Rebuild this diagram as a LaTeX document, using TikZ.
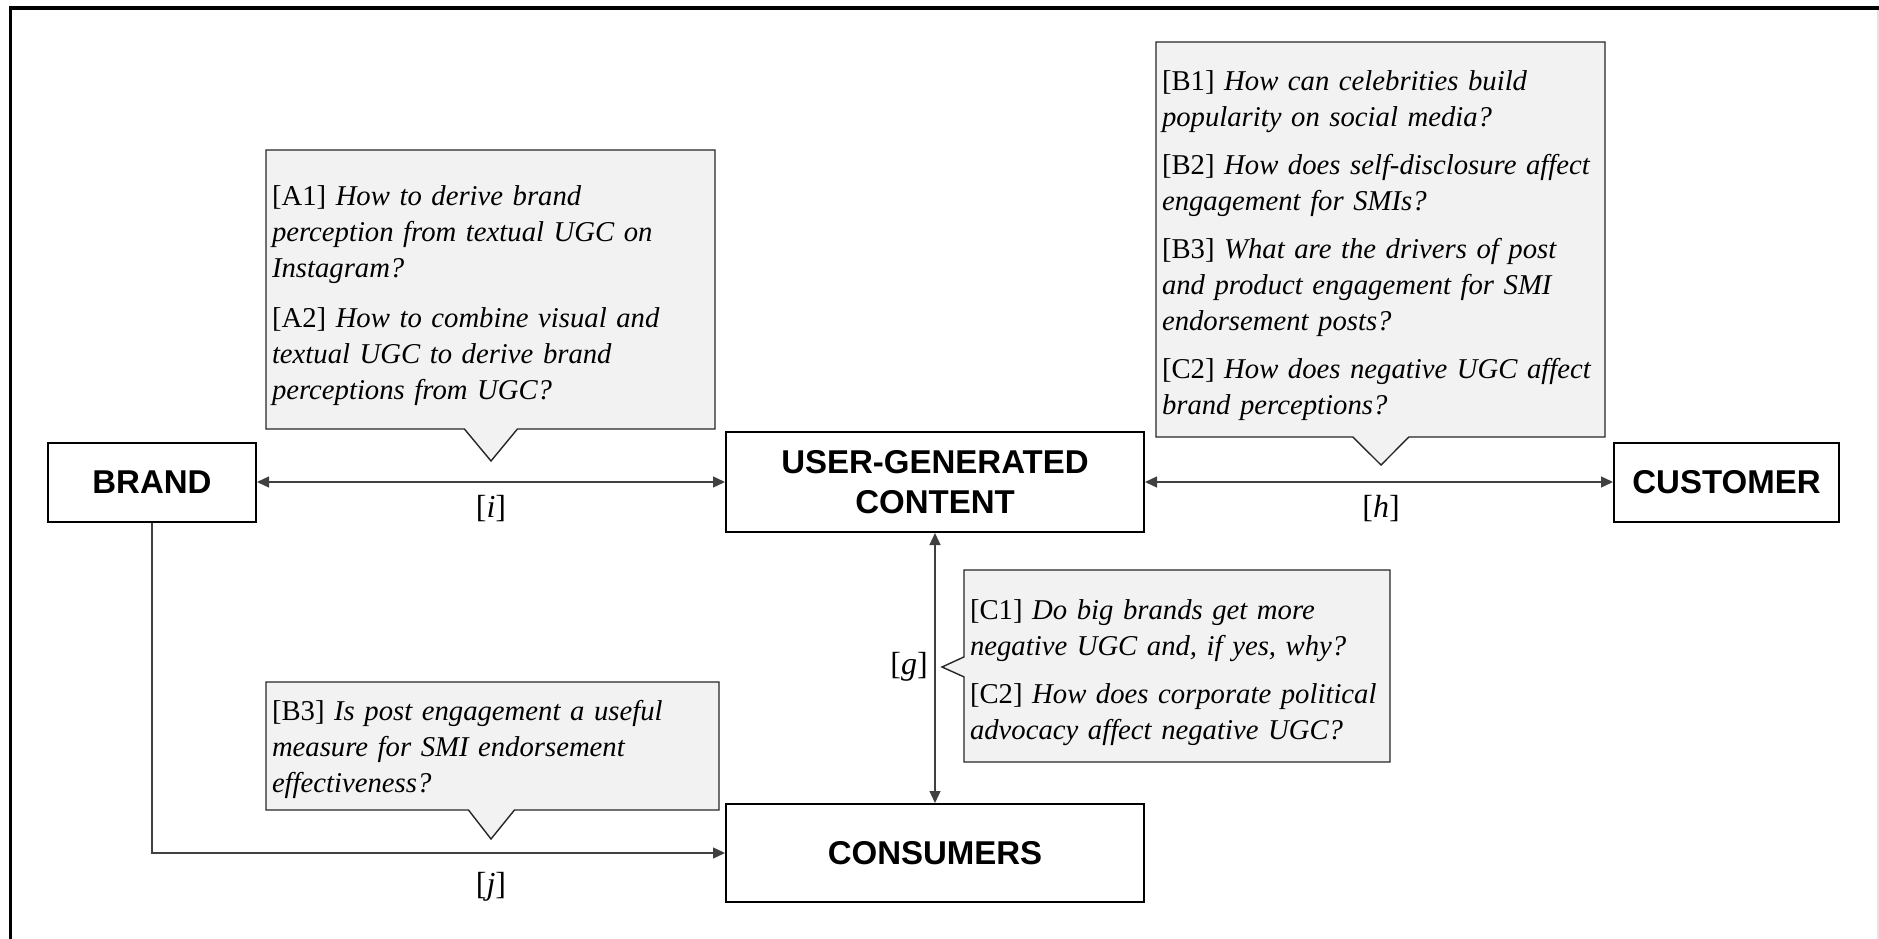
\documentclass[tikz,border=0pt]{standalone}
\usepackage{fontspec}
\setmainfont{Liberation Serif}
\setsansfont{Liberation Sans}
\usetikzlibrary{shapes.callouts,arrows.meta}
\definecolor{callfill}{HTML}{F2F2F2}
\definecolor{lineg}{HTML}{404040}
\definecolor{edgeg}{HTML}{E4E4E4}
\begin{document}
\begin{tikzpicture}[x=1pt,y=-1pt,
  mainbox/.style={draw=black, line width=2pt, fill=white, inner sep=0pt, align=center,
    font=\fontsize{33}{40}\selectfont\sffamily\bfseries},
  qbox/.style={rectangle callout, draw=black!85, line width=1.4pt, fill=callfill,
    inner xsep=6pt, inner ysep=0pt, align=left,
    font=\fontsize{28.7}{36}\selectfont},
  conn/.style={draw=lineg, line width=1.3pt},
  arr/.style={arrows={-Triangle[length=12pt,width=11pt]}},
  darr/.style={arrows={Triangle[length=12pt,width=11pt]-Triangle[length=12pt,width=11pt]}},
  lab/.style={inner sep=0pt, font=\fontsize{32}{36}\selectfont}
]
\useasboundingbox (0,0) rectangle (1879,939);
% frame
\fill[black] (9,6) rectangle (1879,10);
\fill[black] (9,6) rectangle (12,939);
\fill[edgeg] (1877,10) rectangle (1879,939);

% main boxes
\node[mainbox, minimum width=208pt, minimum height=79pt] (brand) at (152,482) {BRAND};
\node[mainbox, minimum width=418pt, minimum height=100pt] (ugc) at (935,482) {USER-GENERATED\\CONTENT};
\node[mainbox, minimum width=225pt, minimum height=79pt] (customer) at (1726.5,482) {CUSTOMER};
\node[mainbox, minimum width=418pt, minimum height=98pt] (consumers) at (935,853) {CONSUMERS};

% connectors
\draw[conn, darr] (brand) -- (ugc);
\draw[conn, darr] (ugc) -- (customer);
\draw[conn, darr] (ugc) -- (consumers);
\draw[conn, arr] (brand.south) |- (consumers.west);

% labels
\node[lab] (li) at (491,509) {[\textit{i}]};
\node[lab] (lh) at (1381,509) {[\textit{h}]};
\node[lab] (lg) at (909,667) {[\textit{g}]};
\node[lab] (lj) at (491,887) {[\textit{j}]};

% callouts
\node[qbox, minimum width=449pt, minimum height=279pt, text width=437pt,
  callout absolute pointer={(491,461)}, callout pointer width=53pt] (qa) at (490.5,289.5)
  {\rule{0pt}{32pt}[A1] \textit{How to derive brand}\\
   \textit{perception from textual UGC on}\\
   \textit{Instagram?}\\[14pt]
   [A2] \textit{How to combine visual and}\\
   \textit{textual UGC to derive brand}\\
   \textit{perceptions from UGC?}};

\node[qbox, minimum width=449pt, minimum height=395pt, text width=437pt,
  callout absolute pointer={(1381,465)}, callout pointer width=56pt] (qb) at (1380.5,239.5)
  {\rule{0pt}{32pt}[B1] \textit{How can celebrities build}\\
   \textit{popularity on social media?}\\[12pt]
   [B2] \textit{How does self-disclosure affect}\\
   \textit{engagement for SMIs?}\\[12pt]
   [B3] \textit{What are the drivers of post}\\
   \textit{and product engagement for SMI}\\
   \textit{endorsement posts?}\\[12pt]
   [C2] \textit{How does negative UGC affect}\\
   \textit{brand perceptions?}};

\node[qbox, minimum width=426pt, minimum height=192pt, text width=414pt,
  callout absolute pointer={(942,667)}, callout pointer width=20pt] (qc) at (1177,666)
  {\rule{0pt}{34pt}[C1] \textit{Do big brands get more}\\
   \textit{negative UGC and, if yes, why?}\\[12pt]
   [C2] \textit{How does corporate political}\\
   \textit{advocacy affect negative UGC?}};

\node[qbox, minimum width=453pt, minimum height=128pt, text width=441pt,
  callout absolute pointer={(491,839)}, callout pointer width=46pt] (qd) at (492.5,746)
  {\rule{0pt}{27pt}[B3] \textit{Is post engagement a useful}\\
   \textit{measure for SMI endorsement}\\
   \textit{effectiveness?}};
\end{tikzpicture}
\end{document}
